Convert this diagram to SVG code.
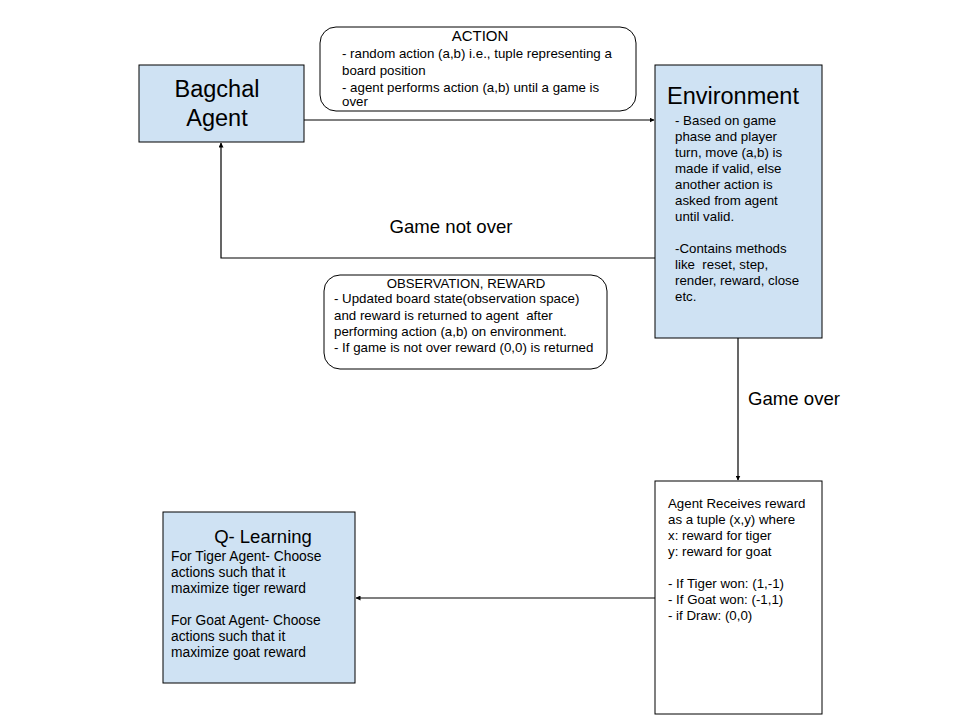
<svg xmlns="http://www.w3.org/2000/svg" width="960" height="720" viewBox="0 0 960 720">
<defs>
<style>
text{font-family:"Liberation Sans",Arial,sans-serif;fill:#000}
.node{fill:#cfe2f3;stroke:#000;stroke-width:1}
.plain{fill:#fff;stroke:#000;stroke-width:1}
.big{font-size:23.5px}
.t{font-size:13.3px}
.q{font-size:13.8px}
.lbl{font-size:18.6px}
.conn{fill:none;stroke:#000;stroke-width:1.2}
</style>
<marker id="ah" viewBox="0 0 10 10" refX="9" refY="5" markerWidth="5" markerHeight="5" orient="auto" markerUnits="userSpaceOnUse">
<path d="M0,0 L10,5 L0,10 z" fill="#000"/>
</marker>
</defs>
<rect width="960" height="720" fill="#fff"/>
<g id="connectors">
<path class="conn" d="M304,120 L654,120" marker-end="url(#ah)"/>
<path class="conn" d="M655,258 L221,258 L221,143" marker-end="url(#ah)"/>
<path class="conn" d="M738,338 L738,480" marker-end="url(#ah)"/>
<path class="conn" d="M655,598 L356,598" marker-end="url(#ah)"/>
<text class="lbl" x="451" y="233" text-anchor="middle">Game not over</text>
<text class="lbl" x="748" y="405">Game over</text>
</g>
<g id="agent">
<rect class="node" x="139" y="65" width="165" height="77"/>
<text class="big" x="217" y="97" text-anchor="middle">Bagchal</text>
<text class="big" x="217" y="126" text-anchor="middle">Agent</text>
</g>
<g id="action">
<rect class="plain" x="320" y="27" width="316" height="84" rx="16"/>
<text x="480" y="41" text-anchor="middle" font-size="15">ACTION</text>
<text class="t" x="342" y="58">- random action (a,b) i.e., tuple representing a</text>
<text class="t" x="342" y="75">board position</text>
<text class="t" x="342" y="92">- agent performs action (a,b) until a game is</text>
<text class="t" x="342" y="106">over</text>
</g>
<g id="environment">
<rect class="node" x="655" y="65" width="167" height="273"/>
<text class="big" x="667" y="104">Environment</text>
<text class="t" x="675" y="125">- Based on game</text>
<text class="t" x="675" y="141">phase and player</text>
<text class="t" x="675" y="157">turn, move (a,b) is</text>
<text class="t" x="675" y="173">made if valid, else</text>
<text class="t" x="675" y="189">another action is</text>
<text class="t" x="675" y="205">asked from agent</text>
<text class="t" x="675" y="221">until valid.</text>
<text class="t" x="675" y="253">-Contains methods</text>
<text class="t" x="675" y="269" xml:space="preserve">like  reset, step,</text>
<text class="t" x="675" y="285">render, reward, close</text>
<text class="t" x="675" y="301">etc.</text>
</g>
<g id="observation">
<rect class="plain" x="324" y="275" width="283" height="94" rx="16"/>
<text x="466" y="288" text-anchor="middle" font-size="13.2">OBSERVATION, REWARD</text>
<text class="t" x="334" y="303">- Updated board state(observation space)</text>
<text class="t" x="334" y="320" xml:space="preserve">and reward is returned to agent  after</text>
<text class="t" x="334" y="336">performing action (a,b) on environment.</text>
<text class="t" x="334" y="352">- If game is not over reward (0,0) is returned</text>
</g>
<g id="reward">
<rect class="plain" x="655" y="481" width="167" height="233"/>
<text class="t" x="668" y="508">Agent Receives reward</text>
<text class="t" x="668" y="524">as a tuple (x,y) where</text>
<text class="t" x="668" y="540">x: reward for tiger</text>
<text class="t" x="668" y="556">y: reward for goat</text>
<text class="t" x="668" y="588">- If Tiger won: (1,-1)</text>
<text class="t" x="668" y="604">- If Goat won: (-1,1)</text>
<text class="t" x="668" y="620">- if Draw: (0,0)</text>
</g>
<g id="qlearning">
<rect class="node" x="163" y="512" width="192" height="171"/>
<text x="263" y="543" text-anchor="middle" font-size="18.5">Q- Learning</text>
<text class="q" x="171" y="561">For Tiger Agent- Choose</text>
<text class="q" x="171" y="577">actions such that it</text>
<text class="q" x="171" y="593">maximize tiger reward</text>
<text class="q" x="171" y="625">For Goat Agent- Choose</text>
<text class="q" x="171" y="641">actions such that it</text>
<text class="q" x="171" y="657">maximize goat reward</text>
</g>
</svg>
